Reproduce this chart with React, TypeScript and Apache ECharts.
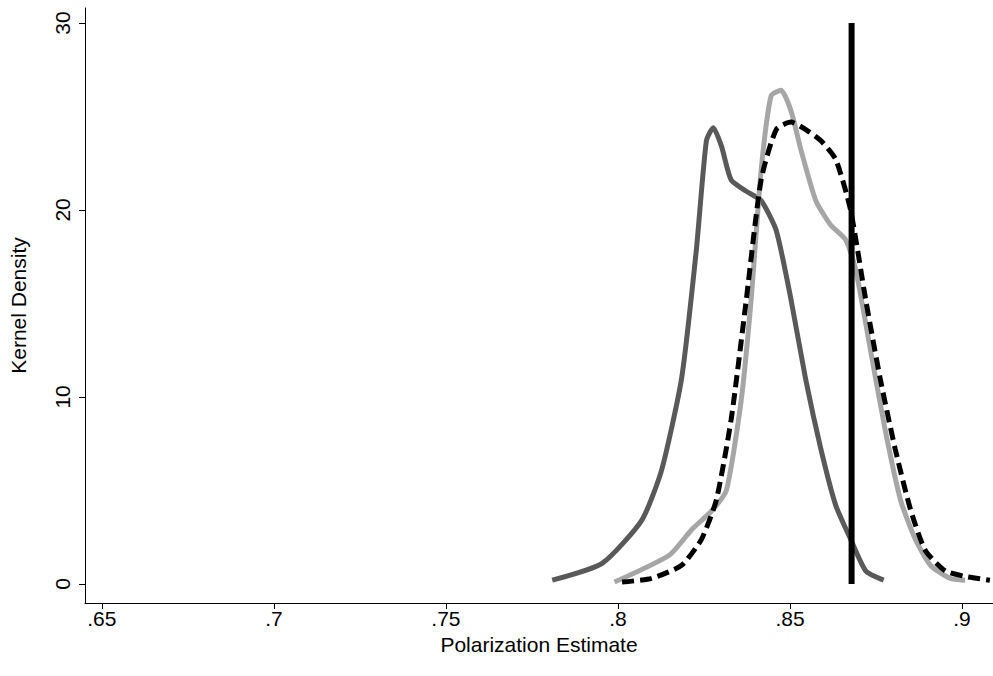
import * as echarts from "echarts";
import { useEffect, useRef } from "react";

const darkX = [0.7809, 0.7954, 0.8069, 0.8127, 0.8185, 0.8228, 0.8257, 0.8277, 0.8301, 0.8329, 0.8373, 0.8416, 0.846, 0.8503, 0.8546, 0.859, 0.8633, 0.8676, 0.872, 0.8772];
const darkY = [0.2, 1.1, 3.4, 6.1, 11, 17.9, 23.7, 24.4, 23.4, 21.6, 21, 20.5, 18.9, 15.2, 10.9, 7.2, 4.2, 2.4, 0.7, 0.2];
const lightX = [0.799, 0.815, 0.8214, 0.8272, 0.8315, 0.8358, 0.8387, 0.8416, 0.8445, 0.8474, 0.8503, 0.8532, 0.8575, 0.8618, 0.8662, 0.8691, 0.8734, 0.8777, 0.8821, 0.8864, 0.8908, 0.8965, 0.9009];
const lightY = [0.1, 1.55, 2.9, 3.9, 5, 9.8, 15.2, 22.1, 26.1, 26.4, 25.3, 23.2, 20.5, 19.2, 18.4, 16.8, 12.5, 8.2, 4.5, 2.4, 1, 0.3, 0.2];
const dashX = [0.8012, 0.8098, 0.8185, 0.8243, 0.8286, 0.8329, 0.8373, 0.8416, 0.846, 0.8503, 0.8546, 0.859, 0.8633, 0.8676, 0.872, 0.8763, 0.8806, 0.885, 0.8893, 0.8951, 0.9009, 0.9081];
const dashY = [0.1, 0.3, 1, 2.4, 4.5, 8.8, 15.2, 21.6, 24.3, 24.7, 24.3, 23.7, 22.7, 20, 15.2, 10.9, 7.2, 4, 1.8, 0.7, 0.4, 0.2];
const trueValue = 0.8679;
const xTicks = [0.65, 0.7, 0.75, 0.8, 0.85, 0.9];
const yTicks = [0, 10, 20, 30];

const zip = (xs: number[], ys: number[]) => xs.map((x, i) => [x, ys[i]]);
const font = "Liberation Sans, Arial, sans-serif";

export default () => {
  const ref = useRef<HTMLDivElement>(null);
  useEffect(() => {
    if (!ref.current) return;
    const chart = echarts.init(ref.current, undefined, { renderer: "svg" });
    chart.setOption({
      animation: false,
      backgroundColor: "#fff",
      grid: { left: 80, right: 0, top: 8, bottom: 73 },
      xAxis: {
        type: "value",
        min: 0.6451,
        max: 0.909,
        name: "Polarization Estimate",
        nameLocation: "middle",
        nameGap: 31,
        nameTextStyle: { fontFamily: font, fontSize: 21, color: "#000" },
        splitLine: { show: false },
        axisLine: { onZero: false, lineStyle: { color: "#000", width: 1 } },
        axisTick: { customValues: xTicks, length: 6, lineStyle: { color: "#000" } },
        axisLabel: {
          customValues: xTicks,
          fontFamily: font,
          fontSize: 21,
          color: "#000",
          margin: 5,
          formatter: (v: number) => String(+v.toFixed(2)).replace(/^0/, ""),
        },
      },
      yAxis: {
        type: "value",
        min: -1.02,
        max: 30.8,
        name: "Kernel Density",
        nameLocation: "middle",
        nameGap: 56,
        nameRotate: 90,
        nameTextStyle: { fontFamily: font, fontSize: 21, color: "#000" },
        splitLine: { show: false },
        axisLine: { show: true, onZero: false, lineStyle: { color: "#000", width: 1 } },
        axisTick: { show: true, customValues: yTicks, length: 6, lineStyle: { color: "#000" } },
        axisLabel: {
          customValues: yTicks,
          rotate: 90,
          fontFamily: font,
          fontSize: 21,
          color: "#000",
          margin: 12,
        },
      },
      series: [
        {
          type: "line", data: zip(darkX, darkY), smooth: 0.2, symbol: "none",
          lineStyle: { color: "#595959", width: 5 },
        },
        {
          type: "line", data: zip(lightX, lightY), smooth: 0.2, symbol: "none",
          lineStyle: { color: "#a6a6a6", width: 5 },
        },
        {
          type: "line", data: zip(dashX, dashY), smooth: 0.2, symbol: "none",
          lineStyle: { color: "#000", width: 5, type: [12, 6] },
        },
        {
          type: "line", data: [[trueValue, 0], [trueValue, 30]], symbol: "none",
          lineStyle: { color: "#000", width: 6 },
        },
      ],
    });
    return () => chart.dispose();
  }, []);
  return <div ref={ref} style={{ position: "absolute", left: 0, top: 0, width: 993, height: 676 }} />;
};
